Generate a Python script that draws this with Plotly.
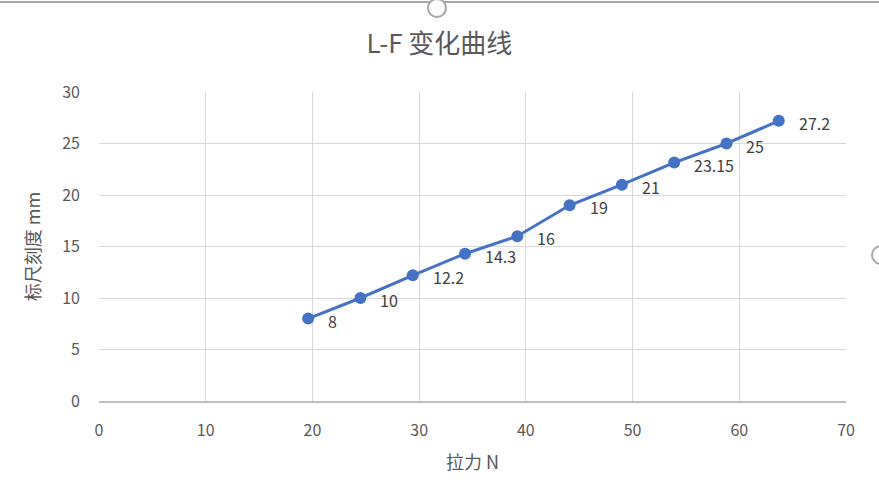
import plotly.graph_objects as go

force_n = [19.6, 24.5, 29.4, 34.3, 39.2, 44.1, 49.0, 53.9, 58.8, 63.7]
scale_mm = [8, 10, 12.2, 14.3, 16, 19, 21, 23.15, 25, 27.2]
labels = ["8", "10", "12.2", "14.3", "16", "19", "21", "23.15", "25", "27.2"]

W, H = 879, 500
L, R, T, B = 99, 846, 92, 401

fig = go.Figure()
fig.add_trace(go.Scatter(
    x=force_n, y=scale_mm, mode="lines+markers",
    line=dict(color="#4472C4", width=3),
    marker=dict(color="#4472C4", size=12),
    hoverinfo="skip", showlegend=False,
))
for xv, yv, t in zip(force_n, scale_mm, labels):
    fig.add_annotation(x=xv, y=yv, text=t, showarrow=False, xanchor="left",
                       yanchor="middle", xshift=18, yshift=-2,
                       font=dict(size=16, color="#404040", family="Noto Sans CJK SC"))

fig.update_layout(
    width=W, height=H,
    margin=dict(l=L, r=W - R, t=T, b=H - B),
    paper_bgcolor="white", plot_bgcolor="white",
    font=dict(family="Noto Sans CJK SC", color="#595959"),
    title=dict(text="L-F 变化曲线", x=0.5, xanchor="center", y=1 - 44 / H, yanchor="middle",
               font=dict(size=26, color="#595959")),
    xaxis=dict(range=[0, 70], dtick=10, showgrid=True, gridcolor="#d9d9d9", gridwidth=1,
               zeroline=False, showline=True, linecolor="#bfbfbf", linewidth=1.5,
               ticks="", ticklabelstandoff=14, tickfont=dict(size=16, color="#595959"),
               title=dict(text="拉力 N", font=dict(size=18, color="#595959"), standoff=16)),
    yaxis=dict(range=[0, 30], dtick=5, showgrid=True, gridcolor="#d9d9d9", gridwidth=1,
               zeroline=False, showline=False, ticks="", ticklabelstandoff=18,
               tickfont=dict(size=16, color="#595959"),
               title=dict(text="标尺刻度 mm", font=dict(size=18, color="#595959"), standoff=16)),
)

def px(xp):
    return (xp - L) / (R - L)

def py(yp):
    return (B - yp) / (B - T)

# chart frame selection handles (from screenshot)
fig.add_shape(type="line", xref="paper", yref="paper", x0=px(0), x1=px(879), y0=py(2), y1=py(2),
              line=dict(color="#a6a6a6", width=2))
fig.add_shape(type="circle", xref="paper", yref="paper", x0=px(428), x1=px(446), y0=py(-1), y1=py(17),
              line=dict(color="#a6a6a6", width=2), fillcolor="white")
fig.add_shape(type="circle", xref="paper", yref="paper", x0=px(872), x1=px(890), y0=py(246), y1=py(264),
              line=dict(color="#a6a6a6", width=2), fillcolor="white")

fig.write_html("out.html")
